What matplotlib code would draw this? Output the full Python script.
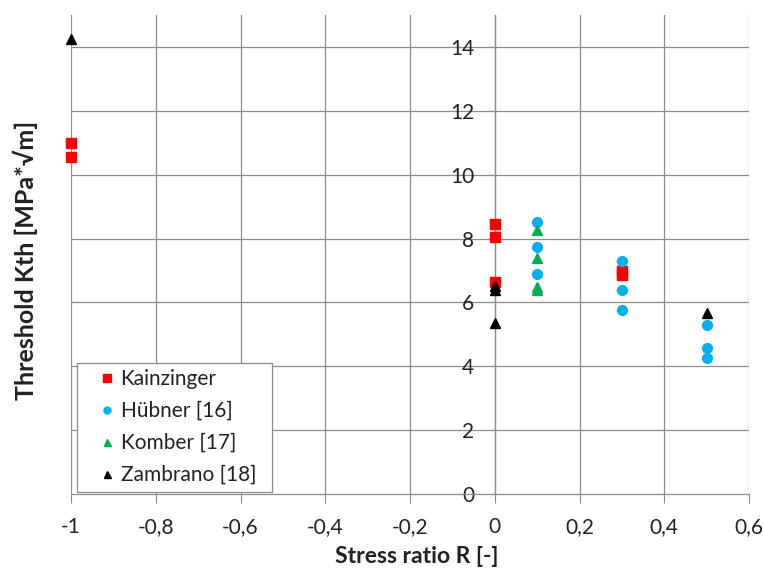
import matplotlib
matplotlib.use("Agg")
import matplotlib.pyplot as plt
from matplotlib.patches import Rectangle

plt.rcParams['font.family'] = ['Lato', 'DejaVu Sans']

# Data
kain_x = [-1, -1, 0, 0, 0, 0.3, 0.3]
kain_y = [11.0, 10.55, 8.44, 8.06, 6.63, 6.97, 6.85]
hub_x = [0.1, 0.1, 0.1, 0.3, 0.3, 0.3, 0.5, 0.5, 0.5]
hub_y = [8.51, 7.73, 6.88, 7.29, 6.38, 5.77, 5.3, 4.57, 4.27]
kom_x = [0.1, 0.1, 0.1, 0.1]
kom_y = [8.27, 7.38, 6.48, 6.38]
zam_x = [-1, 0, 0, 0, 0.5]
zam_y = [14.25, 6.5, 6.38, 5.37, 5.68]

xticks = [-1, -0.8, -0.6, -0.4, -0.2, 0, 0.2, 0.4, 0.6]
xticklabels = ["-1", "-0,8", "-0,6", "-0,4", "-0,2", "0", "0,2", "0,4", "0,6"]
yticks = [0, 2, 4, 6, 8, 10, 12, 14]

W, H = 764, 569
fig = plt.figure(figsize=(W / 100, H / 100), dpi=100)
L, R, T, B = 71, 749, 15, 494
ax = fig.add_axes([L / W, 1 - B / H, (R - L) / W, (B - T) / H])
ax.set_xlim(-1, 0.6)
ax.set_ylim(0, 15)

grid_c = '#8c8c8c'
for yv in yticks[1:]:
    ax.axhline(yv, color=grid_c, lw=0.9, zorder=1)
for xv in xticks:
    ax.axvline(xv, color=grid_c, lw=0.9, zorder=1)

ax.spines['top'].set_visible(False)
ax.spines['right'].set_visible(False)
ax.spines['left'].set_position(('data', 0))
ax.spines['bottom'].set_position(('data', 0))
for s in ('left', 'bottom'):
    ax.spines[s].set_color(grid_c)
    ax.spines[s].set_linewidth(0.9)

ax.set_xticks(xticks)
ax.set_xticklabels(xticklabels)
ax.set_yticks(yticks)
ax.set_yticklabels([str(v) for v in yticks])
ax.tick_params(axis='x', direction='out', length=6.5, color=grid_c, labelsize=15, pad=10,
               labelcolor='#222222')
ax.tick_params(axis='y', direction='out', length=4.3, color=grid_c, labelsize=15, pad=10.5,
               labelcolor='#222222')

ax.plot(kain_x, kain_y, 's', color='#FF0000', ms=7.5, ls='none', label='Kainzinger', zorder=3, clip_on=False)
ax.plot(hub_x, hub_y, 'o', color='#00B0F0', ms=7, ls='none', label='Hübner [16]', zorder=3, clip_on=False)
ax.plot(kom_x, kom_y, '^', color='#00B050', ms=7, ls='none', label='Komber [17]', zorder=3, clip_on=False)
ax.plot(zam_x, zam_y, '^', color='black', ms=7, ls='none', label='Zambrano [18]', zorder=4, clip_on=False)

# legend frame (drawn separately to control its padding)
fx0, fx1, fy0, fy1 = 77, 272, 363, 492
frame = Rectangle(((fx0 - L) / (R - L), (B - fy1) / (B - T)), (fx1 - fx0) / (R - L),
                  (fy1 - fy0) / (B - T), transform=ax.transAxes, facecolor='white',
                  edgecolor='#8c8c8c', lw=0.9, zorder=5)
ax.add_patch(frame)

leg = ax.legend(loc='center left', bbox_to_anchor=((96.6 - L) / (R - L), (B - 427) / (B - T)),
                fontsize=15, markerscale=0.72, frameon=False, borderpad=0,
                labelspacing=0.58, handletextpad=0.15, handlelength=1.0, borderaxespad=0)
leg.set_zorder(6)
for t in leg.get_texts():
    t.set_color('#222222')

fig.text(417 / W, 1 - 563 / H, 'Stress ratio R [-]', fontsize=16.5, fontweight='bold',
         ha='center', va='baseline', color='#222222')
fig.text(25 / W, 1 - 260 / H, 'Threshold Kth [MPa*\u221am]', rotation=90, fontsize=18,
         fontweight='bold', ha='center', va='center', color='#222222')

fig.savefig('out.png', dpi=100)
